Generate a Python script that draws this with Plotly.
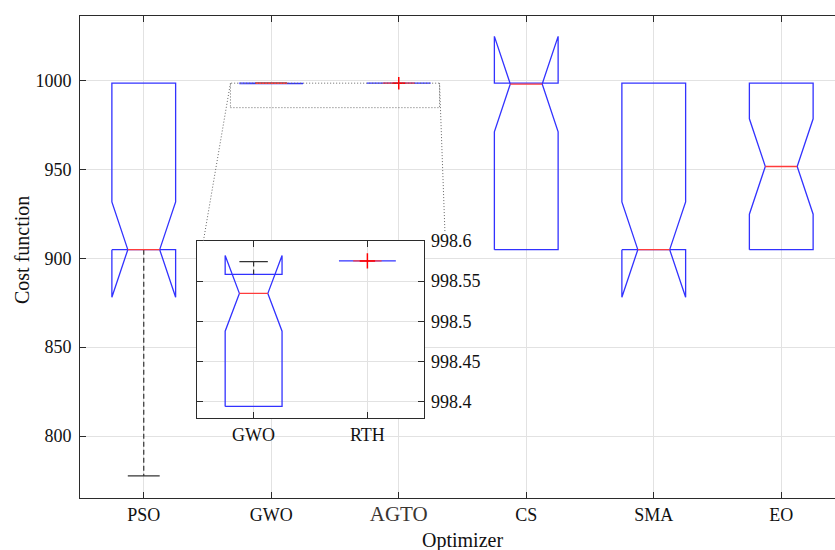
import numpy as np
import plotly.graph_objects as go

# Per-optimizer box statistics of the final cost over the independent runs
optimizers = ["PSO", "GWO", "AGTO", "CS", "SMA", "EO"]
q1 = [904.9, 998.3938, 998.5752, 904.9, 904.9, 904.9]
medians = [904.9, 998.5347, 998.5752, 998.1, 904.9, 951.7]
q3 = [998.58, 998.5583, 998.5752, 998.58, 998.58, 998.58]
whisker_lo = [777.5, 998.3938, 998.5752, 904.9, 904.9, 904.9]
whisker_hi = [998.58, 998.5744, 998.5752, 998.58, 998.58, 998.58]
outlier_idx = [2]
outlier_val = [998.5752]
runs = 30

# Zoomed view: which optimizers it shows and the labels it uses
inset_idx = [1, 2]
inset_labels = ["GWO", "RTH"]

main_yticks = [800, 850, 900, 950, 1000]
inset_yticks = [998.4, 998.45, 998.5, 998.55, 998.6]
inset_yticktext = ["998.4", "998.45", "998.5", "998.55", "998.6"]

# ---- layout geometry ----
W, H = 835, 550
ML, MT, MB = 80, 16, 52
X_RANGE = [0.5, 0.5 + 755 / 127.5]
Y_RANGE = [765.1, 1036.4]
INSET_X = [0.1546, 0.456]
INSET_Y = [0.1654, 0.5332]
INSET_XR = [0.5, 2.5]
INSET_YR = [998.379, 998.6]
ZOOM_RECT = dict(x0=1.68, x1=3.32, y0=984.8, y1=998.6)

BOX_W = 0.5
BLUE = "rgb(50,50,255)"
RED = "rgb(255,60,60)"
AXC = "#2b2b2b"
GRID = "#e2e2e2"
FONT = "Liberation Serif"


def main_to_paper(x, y):
    return ((x - X_RANGE[0]) / (X_RANGE[1] - X_RANGE[0]),
            (y - Y_RANGE[0]) / (Y_RANGE[1] - Y_RANGE[0]))


def paper_to_main(px, py):
    return (X_RANGE[0] + px * (X_RANGE[1] - X_RANGE[0]),
            Y_RANGE[0] + py * (Y_RANGE[1] - Y_RANGE[0]))


def notch(i):
    half = 1.57 * (q3[i] - q1[i]) / np.sqrt(runs)
    return medians[i] - half, medians[i] + half


def add_box(fig, pos, i, xa, ya, msize):
    w = BOX_W / 2
    lo, hi = notch(i)
    xs = [pos - w, pos - w, pos - w / 2, pos - w, pos - w,
          pos + w, pos + w, pos + w / 2, pos + w, pos + w, pos - w]
    ys = [q1[i], lo, medians[i], hi, q3[i], q3[i], hi, medians[i], lo, q1[i], q1[i]]
    fig.add_trace(go.Scatter(x=xs, y=ys, mode="lines", xaxis=xa, yaxis=ya,
                             line=dict(color=BLUE, width=1.3), hoverinfo="skip"))
    # whiskers
    if whisker_lo[i] < q1[i]:
        fig.add_trace(go.Scatter(x=[pos, pos], y=[q1[i], whisker_lo[i]], mode="lines",
                                 xaxis=xa, yaxis=ya,
                                 line=dict(color="#333", width=1.2, dash="5px,3px")))
        fig.add_trace(go.Scatter(x=[pos - w / 2, pos + w / 2], y=[whisker_lo[i]] * 2,
                                 mode="lines", xaxis=xa, yaxis=ya,
                                 line=dict(color="#333", width=1.2)))
    if whisker_hi[i] > q3[i]:
        fig.add_trace(go.Scatter(x=[pos, pos], y=[q3[i], whisker_hi[i]], mode="lines",
                                 xaxis=xa, yaxis=ya,
                                 line=dict(color="#333", width=1.2, dash="5px,3px")))
        fig.add_trace(go.Scatter(x=[pos - w / 2, pos + w / 2], y=[whisker_hi[i]] * 2,
                                 mode="lines", xaxis=xa, yaxis=ya,
                                 line=dict(color="#333", width=1.2)))
    # median
    fig.add_trace(go.Scatter(x=[pos - w / 2, pos + w / 2], y=[medians[i]] * 2,
                             mode="lines", xaxis=xa, yaxis=ya,
                             line=dict(color=RED, width=1.3)))
    # outliers
    for k, oi in enumerate(outlier_idx):
        if oi == i:
            fig.add_trace(go.Scatter(x=[pos], y=[outlier_val[k]], mode="markers",
                                     xaxis=xa, yaxis=ya,
                                     marker=dict(symbol="cross-thin", size=msize,
                                                 line=dict(color="red", width=1.5))))


fig = go.Figure()

# main panel boxes
for i in range(len(optimizers)):
    add_box(fig, i + 1, i, "x", "y", 9)

# white backing for the zoomed panel so the main grid does not show through
cx0, cy0 = paper_to_main(INSET_X[0], INSET_Y[0])
cx1, cy1 = paper_to_main(INSET_X[1], INSET_Y[1])
fig.add_trace(go.Scatter(x=[cx0, cx1, cx1, cx0, cx0], y=[cy0, cy0, cy1, cy1, cy0],
                         mode="lines", fill="toself", fillcolor="white",
                         line=dict(width=0), xaxis="x", yaxis="y", hoverinfo="skip"))

# zoomed panel boxes
for k, i in enumerate(inset_idx):
    add_box(fig, k + 1, i, "x2", "y2", 11)

# zoom rectangle and connectors
dot = dict(color="#666", width=1, dash="1px,2px")
fig.add_shape(type="rect", xref="x", yref="y", line=dot, **ZOOM_RECT)
p_left = main_to_paper(ZOOM_RECT["x0"], ZOOM_RECT["y1"])
p_right = main_to_paper(ZOOM_RECT["x1"], ZOOM_RECT["y1"])
fig.add_shape(type="line", xref="paper", yref="paper", line=dot,
              x0=p_left[0], y0=p_left[1], x1=0.163, y1=INSET_Y[1] - 0.004)
fig.add_shape(type="line", xref="paper", yref="paper", line=dot,
              x0=p_right[0], y0=p_right[1], x1=0.4834, y1=0.5498)

ticktext = [f'<span style="font-size:21px;color:#3a3532">{t}</span>' if t == "AGTO" else t
            for t in optimizers]

axis_common = dict(showline=True, linecolor=AXC, linewidth=1, ticks="inside",
                   ticklen=6, tickcolor=AXC, showgrid=True, gridcolor=GRID,
                   gridwidth=1, zeroline=False,
                   tickfont=dict(family=FONT, size=18, color="#111"))

fig.update_layout(
    width=W, height=H, autosize=False,
    margin=dict(l=ML, r=0, t=MT, b=MB),
    paper_bgcolor="white", plot_bgcolor="white",
    showlegend=False,
    font=dict(family=FONT, size=18, color="#111"),
    xaxis=dict(domain=[0, 1], range=X_RANGE, tickvals=list(range(1, 7)),
               ticktext=ticktext, mirror="ticks", anchor="y", **axis_common),
    yaxis=dict(domain=[0, 1], range=Y_RANGE, tickvals=main_yticks,
               ticklabelstandoff=4, anchor="x", **axis_common),
    xaxis2=dict(domain=INSET_X, range=INSET_XR, tickvals=[1, 2],
                ticktext=inset_labels, anchor="y2", mirror="ticks", **axis_common),
    yaxis2=dict(domain=INSET_Y, range=INSET_YR, tickvals=inset_yticks,
                ticktext=inset_yticktext, side="right", anchor="x2",
                mirror="ticks", ticklabelstandoff=2, **axis_common),
    annotations=[
        dict(text="Cost function", xref="paper", yref="paper",
             x=(22 - ML) / 755, y=(498 - 250) / 482, textangle=-90,
             xanchor="center", yanchor="middle",
             showarrow=False, font=dict(family=FONT, size=20, color="#111")),
        dict(text="Optimizer", xref="x", yref="paper", x=3.5, y=(498 - 540) / 482,
             xanchor="center", yanchor="middle",
             showarrow=False, font=dict(family=FONT, size=20, color="#111")),
    ],
)

fig.write_html("out.html")
